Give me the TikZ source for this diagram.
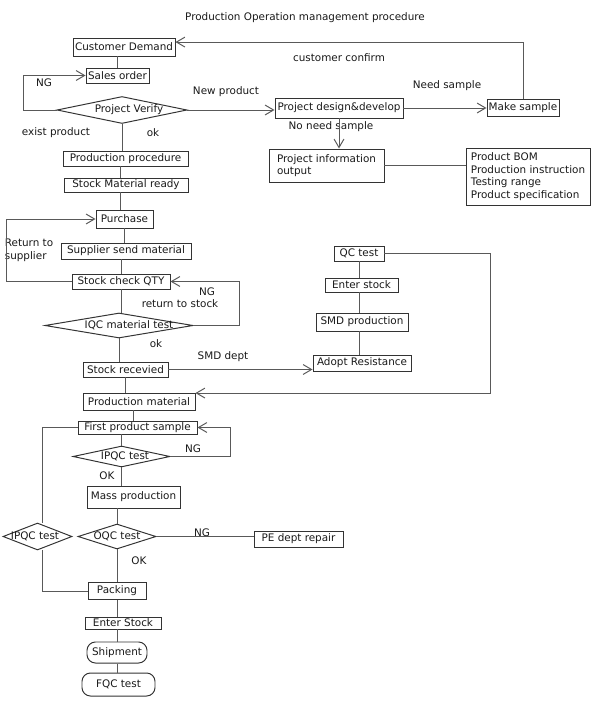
\documentclass[tikz,border=0pt]{standalone}
\usepackage{fontspec}
\setmainfont{DejaVu Sans}
\usetikzlibrary{shapes.geometric,arrows.meta}
\newlength\pu
\setlength\pu{0.025cm}

\begin{document}
\begin{tikzpicture}[x=\pu, y=-\pu, >={Straight Barb[length=6pt,width=7pt]},
  every node/.style={font=\fontsize{7.4}{9}\selectfont, text=black!90},
  wh/.style 2 args={minimum width=#1\pu, minimum height=#2\pu}]
\tikzstyle{block}=[rectangle, draw=black!80, line width=0.7pt, inner sep=0pt, align=center]
\tikzstyle{dec}=[diamond, draw=black!80, line width=0.7pt, inner sep=0pt]
\tikzstyle{term}=[block, rounded corners=6pt]
\tikzstyle{link}=[draw=black!65, line width=0.7pt]
\useasboundingbox (0,0) rectangle (600,722);
\node (title) at (305,18) {Production Operation management procedure};
\node[block, wh={102}{18}] (demand) at (124,47) {Customer Demand};
\node[block, wh={63}{15}] (sales) at (117.5,75.5) {Sales order};
\node[dec, wh={130}{27}, label={[xshift=7\pu]center:Project Verify}] (verify) at (122,110) {};
\node[block, wh={128}{20}] (design) at (339,108) {Project design\&develop};
\node[block, wh={72}{17}] (sample) at (523,107.5) {Make sample};
\node[block, wh={115}{33}, align=left] (info) at (326.5,165.5) {Project information\\output};
\node[block, wh={124}{57}, align=left] (bom) at (528,176.5) {Product BOM\\Production instruction\\Testing range\\Product specification};
\node[block, wh={125}{15}] (prodproc) at (125.5,158.5) {Production procedure};
\node[block, wh={124}{14}] (ready) at (126,185) {Stock Material ready};
\node[block, wh={57}{18}] (purchase) at (124.5,219) {Purchase};
\node[block, wh={130}{16}] (supplier) at (126,251) {Supplier send material};
\node[block, wh={98}{15}] (check) at (121,281.5) {Stock check QTY};
\node[dec, wh={148}{25}, label={[xshift=10\pu]center:IQC material test}] (iqc) at (119,325.5) {};
\node[block, wh={85}{15}] (received) at (125.5,369.5) {Stock recevied};
\node[block, wh={112}{17}] (prodmat) at (139,401.5) {Production material};
\node[block, wh={50}{15}] (qc) at (359,253.5) {QC test};
\node[block, wh={73}{14}] (enter) at (361.5,285) {Enter stock};
\node[block, wh={92}{18}] (smd) at (362,322) {SMD production};
\node[block, wh={98}{16}] (adopt) at (362,363) {Adopt Resistance};
\node[block, wh={119}{13}] (first) at (137.5,427.5) {First product sample};
\node[dec, wh={97}{21}, label={[xshift=3.5\pu]center:IPQC test}] (ipqc) at (121.5,456.5) {};
\node[block, wh={93}{22}] (mass) at (133.5,497) {Mass production};
\node[dec, wh={78}{25}, label=center:OQC test] (oqc) at (117,536.5) {};
\node[dec, wh={69}{27}, label={[xshift=-2.5\pu]center:IPQC test}] (ipqcb) at (37.5,536.5) {};
\node[block, wh={89}{16}] (repair) at (298.5,539) {PE dept repair};
\node[block, wh={58}{17}] (packing) at (117,591) {Packing};
\node[block, wh={76}{12}] (stockin) at (123,623) {Enter Stock};
\node[term, wh={60}{21}] (ship) at (117,652.5) {Shipment};
\node[term, wh={73}{23}] (fqc) at (118.5,684.5) {FQC test};
\node (confirm) at (339,58) {customer confirm};
\node (ng1) at (44,83) {NG};
\node (newprod) at (226,92) {New product};
\node (needs) at (447,86) {Need sample};
\node (exist) at (56,133) {exist product};
\node (ok1) at (153,133) {ok};
\node (noneed) at (331,127) {No need sample};
\node[align=left] (ret) at (29,250) {Return to\\supplier};
\node (ng2) at (207,292) {NG};
\node (retstock) at (180,304) {return to stock};
\node (ok2) at (156,344) {ok};
\node (smddept) at (223,357) {SMD dept};
\node (ng3) at (193,449) {NG};
\node (ok3) at (107,476) {OK};
\node (ng4) at (202,533) {NG};
\node (ok4) at (139,561) {OK};
\draw[link] (sales.north) -- (sales.north |- demand.south);
\draw[link, ->] (sample.north) |- ([yshift=3.5pt]demand.east);
\draw[link, ->] (verify.west) -- ++(-33,0) |- (sales.west);
\draw[link] (verify.south) -- (verify.south |- prodproc.north);
\draw[link, ->] (verify.east) -- (verify.east -| design.west);
\draw[link, ->] (design.east) -- (design.east -| sample.west);
\draw[link, ->] (design.south) -- (design.south |- info.north);
\draw[link] (info.east) -- (info.east -| bom.west);
\draw[link] ([xshift=-5\pu]prodproc.south) -- ([xshift=-5\pu]prodproc.south |- ready.north);
\draw[link] ([xshift=-6\pu]ready.south) -- ([xshift=-6\pu]ready.south |- purchase.north);
\draw[link] (purchase.south) -- (purchase.south |- supplier.north);
\draw[link] (check.north) -- (check.north |- supplier.south);
\draw[link, ->] (check.west) -- ++(-65,0) |- (purchase.west);
\draw[link] (check.south) -- (check.south |- iqc.north);
\draw[link, ->] (iqc.east) -- ++(46,0) |- (check.east);
\draw[link] (iqc.south) -- (iqc.south |- received.north);
\draw[link, ->] (received.east) -- (received.east -| adopt.west);
\draw[link] (received.south) -- (received.south |- prodmat.north);
\draw[link, ->] (qc.east) -- ++(106,0) |- ([yshift=6pt]prodmat.east);
\draw[link] (qc.south) -- (qc.south |- enter.north);
\draw[link] (qc.south |- enter.south) -- (qc.south |- smd.north);
\draw[link] (qc.south |- smd.south) -- (qc.south |- adopt.north);
\draw[link] ([xshift=-6\pu]prodmat.south) -- ([xshift=-6\pu]prodmat.south |- first.north);
\draw[link] (ipqc.north) -- (ipqc.north |- first.south);
\draw[link, ->] (ipqc.east) -- ++(60,0) |- (first.east);
\draw[link] (ipqc.south) -- (ipqc.south |- mass.north);
\draw[link] (oqc.north) -- (oqc.north |- mass.south);
\draw[link] (oqc.east) -- (oqc.east -| repair.west);
\draw[link] (oqc.south) -- (oqc.south |- packing.north);
\draw[link] (first.west) -| ([xshift=4.5\pu]ipqcb.north);
\draw[link] ([xshift=4.5\pu]ipqcb.south) |- (packing.west);
\draw[link] (packing.south) -- (packing.south |- stockin.north);
\draw[link] (ship.north) -- (ship.north |- stockin.south);
\draw[link] (ship.south) -- (ship.south |- fqc.north);
\end{tikzpicture}
\end{document}
